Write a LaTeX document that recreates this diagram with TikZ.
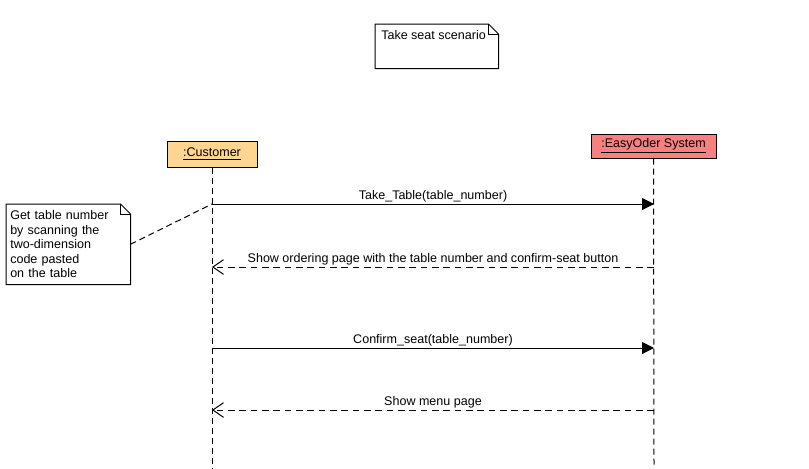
\documentclass[tikz,border=0pt]{standalone}
\usepackage{fontspec}
\setmainfont{Liberation Sans}
\usetikzlibrary{arrows.meta}

\definecolor{custfill}{RGB}{255,214,145}
\definecolor{sysfill}{RGB}{248,128,128}

% folded-corner outline round a note node
\newcommand{\foldframe}[1]{%
  \draw[line width=0.75pt] (#1.north west) -- ([xshift=-7.5pt]#1.north east) -- ([yshift=-7.5pt]#1.north east)
    -- (#1.south east) -- (#1.south west) -- cycle;
  \draw[line width=0.75pt] ([xshift=-7.5pt]#1.north east) |- ([yshift=-7.5pt]#1.north east);
}

\begin{document}
\begin{tikzpicture}[x=0.75pt,y=-0.75pt,font=\fontsize{9.4}{10.9}\selectfont,
  obj/.style={draw,line width=0.75pt,inner sep=0pt},
  note/.style={draw=none,inner sep=3pt,align=left,anchor=north west},
  life/.style={line width=0.75pt,dash pattern=on 4.5pt off 3pt},
  call/.style={line width=0.75pt,-{Triangle[length=9pt,width=9pt]}},
  reply/.style={line width=0.75pt,dash pattern=on 5pt off 3.5pt,-{Straight Barb[length=8pt,width=11pt]}}]
  \useasboundingbox (0,0) rectangle (809,468);

  % objects
  \node[obj,fill=custfill,minimum width=67.5pt,minimum height=19.5pt] (cust) at (212,154) {\underline{:Customer}};
  \node[obj,fill=sysfill,minimum width=93.75pt,minimum height=18pt] (sys) at (653.5,146) {\underline{:EasyOder System}};

  % lifelines
  \coordinate (custend) at (212,468);
  \coordinate (sysend) at (654,468);
  \draw[life] (cust) -- (custend);
  \draw[life] (sys) -- (sysend);

  % message ends
  \coordinate (c1) at (212,204);  \coordinate (s1) at (654,204);
  \coordinate (c2) at (212,267);  \coordinate (s2) at (654,267);
  \coordinate (c3) at (212,348);  \coordinate (s3) at (654,348);
  \coordinate (c4) at (212,410);  \coordinate (s4) at (654,410);

  \draw[call] (c1) -- node[above,inner sep=1pt] {Take\_Table(table\_number)} (s1);
  \draw[reply] (s2) -- node[above,inner sep=1pt] {Show ordering page with the table number and confirm-seat button} (c2);
  \draw[call] (c3) -- node[above,inner sep=1pt] {Confirm\_seat(table\_number)} (s3);
  \draw[reply] (s4) -- node[above,inner sep=1pt] {Show menu page} (c4);

  % notes
  \node[note,minimum width=92.25pt,minimum height=33pt] (scen) at (375,24) {};
  \node[note,inner sep=4.5pt] (scentext) at (scen.north west) {Take seat scenario};
  \foldframe{scen}

  \node[note,text width=87pt,minimum height=60pt] (scan) at (6,204) {Get table number\\by scanning the\\two-dimension\\code pasted\\on the table};
  \foldframe{scan}
  \draw[life] (scan.east) -- (c1);
\end{tikzpicture}
\end{document}
